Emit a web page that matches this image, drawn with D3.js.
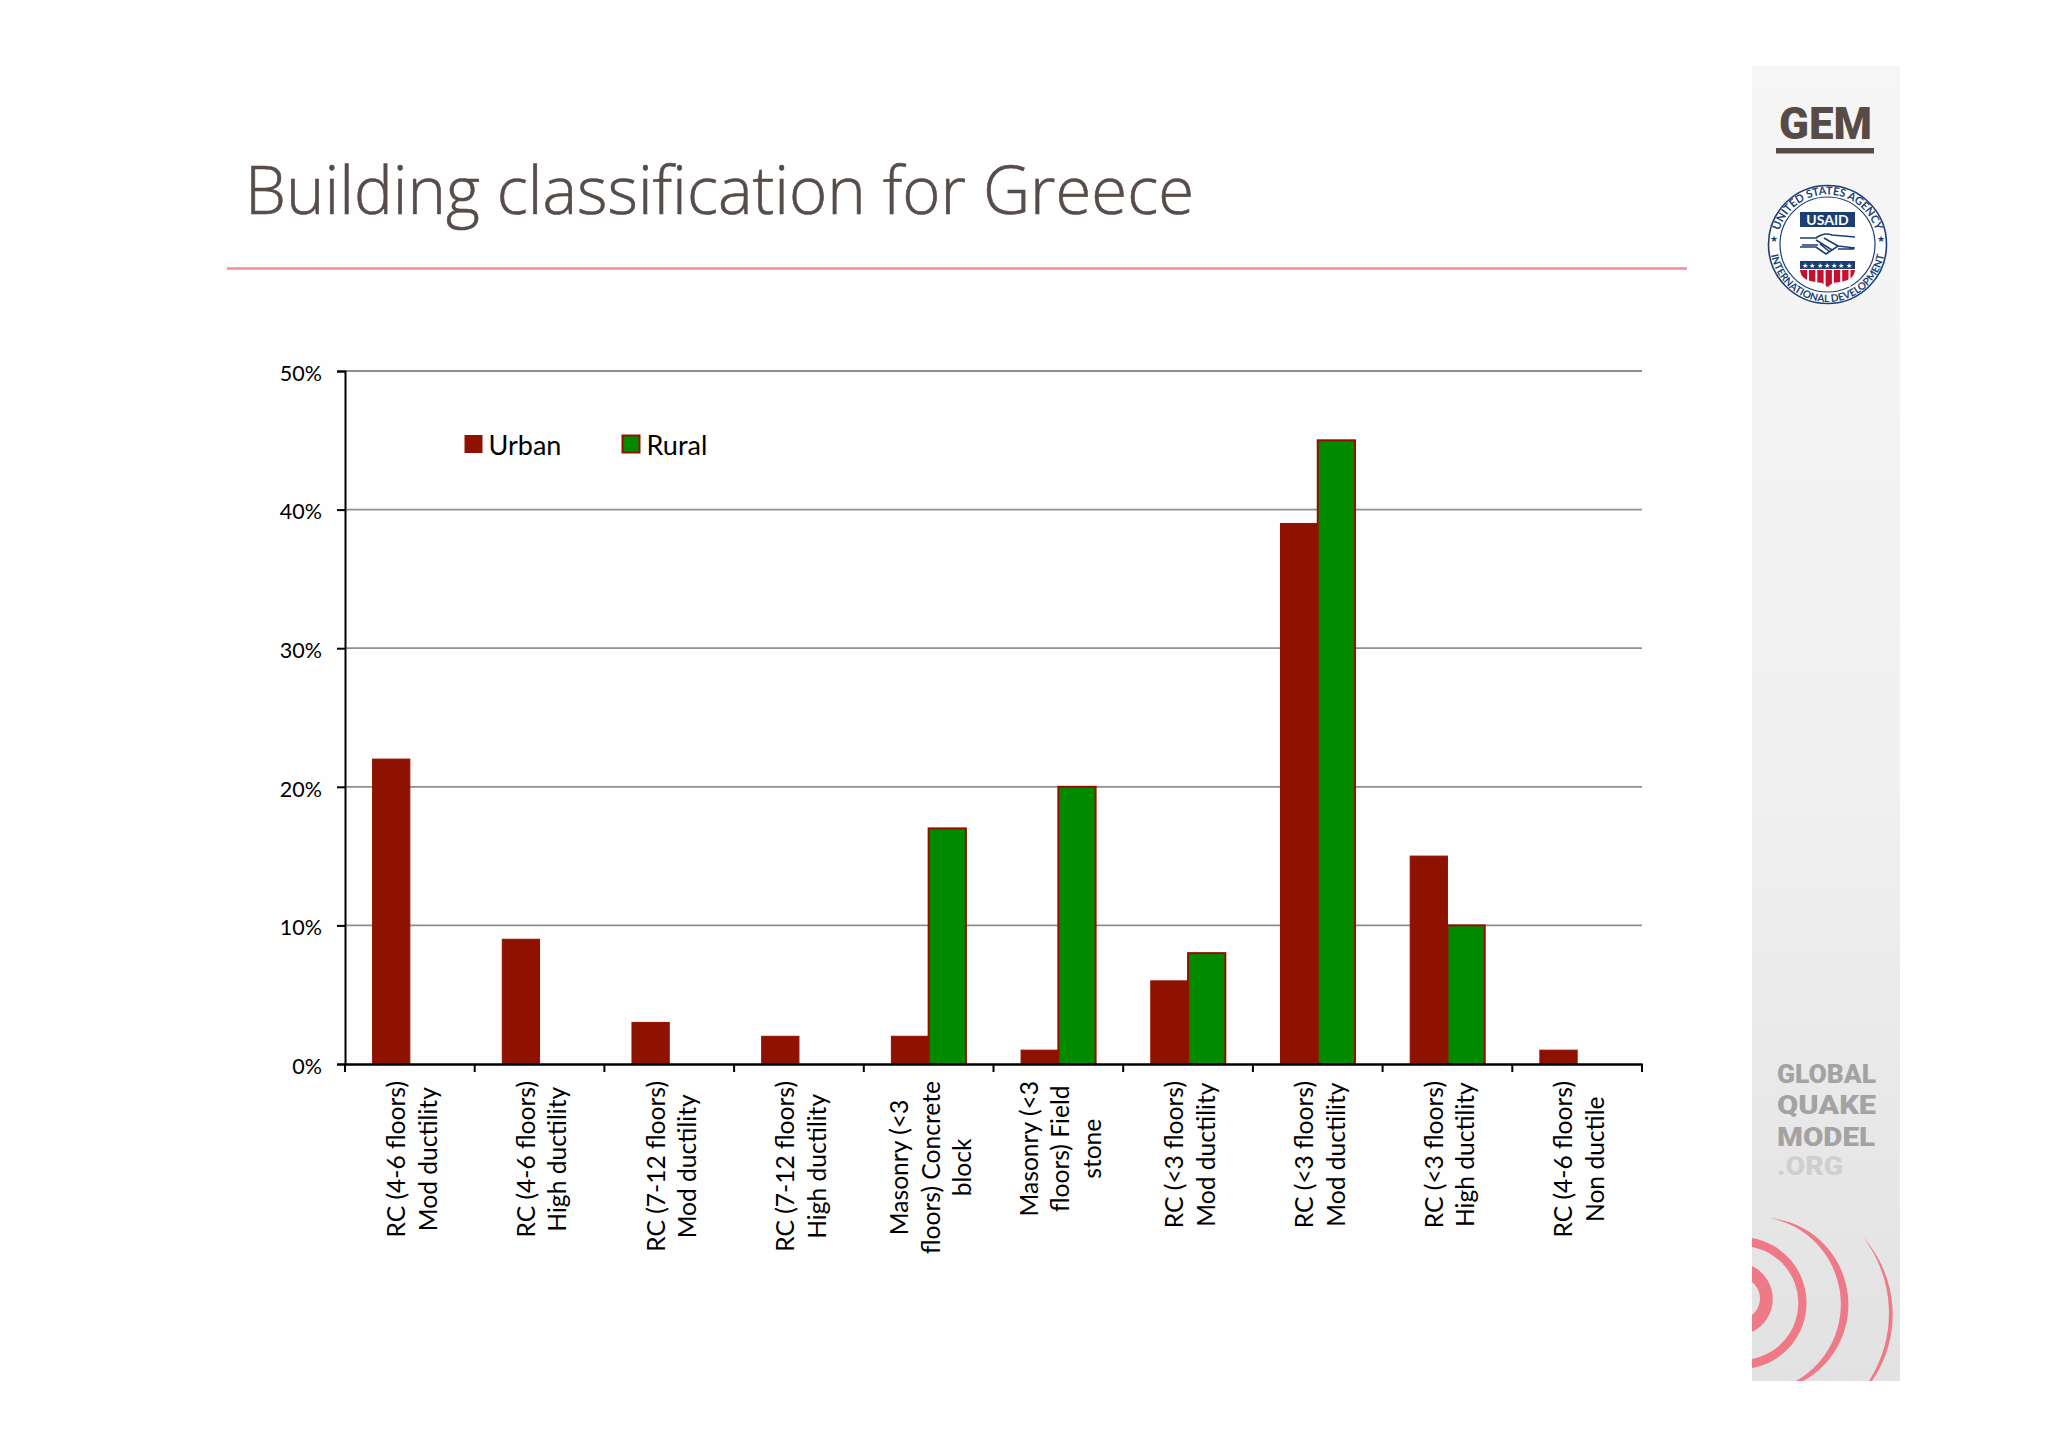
<!DOCTYPE html>
<html><head><meta charset="utf-8">
<script src="https://cdn.jsdelivr.net/npm/d3@7/dist/d3.min.js"></script>
<style>html,body{margin:0;padding:0;background:#fff}svg{display:block}text{font-family:Lato,sans-serif}</style>
</head><body><svg id="c" width="2048" height="1447"></svg>
<script>
const categories = ["RC (4-6 floors) Mod ductility","RC (4-6 floors) High ductility","RC (7-12 floors) Mod ductility","RC (7-12 floors) High ductility","Masonry (<3 floors) Concrete block","Masonry (<3 floors) Field stone","RC (<3 floors) Mod ductility","RC (<3 floors) Mod ductility ","RC (<3 floors) High ductility","RC (4-6 floors) Non ductile"];
const categoryLines = [["RC (4-6 floors)","Mod ductility"],["RC (4-6 floors)","High ductility"],["RC (7-12 floors)","Mod ductility"],["RC (7-12 floors)","High ductility"],["Masonry (<3","floors) Concrete","block"],["Masonry (<3","floors) Field","stone"],["RC (<3 floors)","Mod ductility"],["RC (<3 floors)","Mod ductility"],["RC (<3 floors)","High ductility"],["RC (4-6 floors)","Non ductile"]];
const seriesNames = ["Urban","Rural"];
const urban = [22,9,3,2,2,1,6,39,15,1];
const rural = [0,0,0,0,17,20,8,45,10,0];
const yTicks = [0,10,20,30,40,50];
const seriesColors = ["#8f1200","#008a00"];

const svg = d3.select("#c");
const defs = svg.append("defs");
const grad = defs.append("linearGradient").attr("id","pg").attr("x1",0).attr("y1",0).attr("x2",0).attr("y2",1);
grad.append("stop").attr("offset",0).attr("stop-color","#f6f6f7");
grad.append("stop").attr("offset",0.55).attr("stop-color","#f0f0f1");
grad.append("stop").attr("offset",1).attr("stop-color","#e2e2e2");

// slide
svg.append("rect").attr("x",0).attr("y",0).attr("width",2048).attr("height",1447).attr("fill","#ffffff");
svg.append("rect").attr("x",227).attr("y",66).attr("width",1525).attr("height",1381).attr("fill","#fefefe");
svg.append("text").attr("x",245).attr("y",214).attr("font-size",67).attr("font-weight",300).attr("fill","#564c49")
  .attr("stroke","#564c49").attr("stroke-width",0.6)
  .style("font-family","'Open Sans',sans-serif")
  .attr("textLength",949).attr("lengthAdjust","spacingAndGlyphs").text("Building classification for Greece");
svg.append("line").attr("x1",227).attr("x2",1687).attr("y1",268.5).attr("y2",268.5).attr("stroke","#ee8d97").attr("stroke-width",2.4);

// chart
const y = d3.scaleLinear().domain([0,50]).range([1064,371]);
const x0 = d3.scaleBand().domain(categories).range([345,1642]);
const x1 = d3.scaleBand().domain(seriesNames).range([0,x0.bandwidth()]).paddingInner(0).paddingOuter(0.74);
const left = 345, right = 1642;

svg.append("g").selectAll("line").data(yTicks.slice(1)).join("line")
  .attr("x1",left).attr("x2",right).attr("y1",d=>y(d)).attr("y2",d=>y(d))
  .attr("stroke","#8f8f8f").attr("stroke-width",1.8);

const bars = svg.append("g");
[urban,rural].forEach((vals,si)=>{
  bars.append("g").selectAll("rect").data(vals.map((v,i)=>({v,c:categories[i]})).filter(d=>d.v>0)).join("rect")
    .attr("x",d=>x0(d.c)+x1(seriesNames[si])).attr("width",x1.bandwidth())
    .attr("y",d=>y(d.v)).attr("height",d=>y(0)-y(d.v))
    .attr("fill",seriesColors[si]).attr("stroke","#8f1200").attr("stroke-width",si?2:1);
});

const yAxis = svg.append("g").attr("transform",`translate(${left},0)`)
  .call(d3.axisLeft(y).tickValues(yTicks).tickSize(8).tickPadding(15).tickFormat(d=>d+"%"));
yAxis.selectAll("text").attr("font-size",21.5).attr("fill","#000").attr("font-family","Lato, sans-serif").attr("dy","0.62em").attr("y",-4);
yAxis.selectAll("line,path").attr("stroke","#000").attr("stroke-width",2);

const xAxis = svg.append("g").attr("transform",`translate(0,${y(0)})`)
  .call(d3.axisBottom(x0).tickValues([]).tickSize(0).tickSizeOuter(0));
xAxis.select("path").attr("stroke","#000").attr("stroke-width",2.4);
const tickXs = categories.map(c=>x0(c)).concat([right]);
svg.append("g").selectAll("line").data(tickXs).join("line")
  .attr("x1",d=>d).attr("x2",d=>d).attr("y1",y(0)).attr("y2",y(0)+8).attr("stroke","#000").attr("stroke-width",2);

// category labels
const lineGap = 31.5, topEdge = 1081;
const labels = svg.append("g");
categories.forEach((c,i)=>{
  const lines = categoryLines[i];
  const cx = x0(c)+x0.bandwidth()/2+3;
  const t = labels.append("text").attr("text-anchor","middle").attr("font-size",24.6).attr("fill","#000");
  lines.forEach((l,k)=>t.append("tspan").attr("x",0).attr("y",(k-(lines.length-1)/2)*lineGap+8).text(l));
  const maxLen = d3.max(t.selectAll("tspan").nodes(),n=>n.getComputedTextLength());
  t.attr("transform",`translate(${cx},${topEdge+maxLen/2}) rotate(-90)`);
});

// legend
const legX = [465,622.5], legTextX = [488.5,646.5], legStroke = [1,2];
seriesNames.forEach((s,i)=>{
  svg.append("rect").attr("x",legX[i]).attr("y",435.5).attr("width",17).attr("height",17)
    .attr("fill",seriesColors[i]).attr("stroke","#8f1200").attr("stroke-width",legStroke[i]);
  svg.append("text").attr("x",legTextX[i]).attr("y",455).attr("font-size",27).attr("fill","#000").text(s);
});

// side panel
svg.append("rect").attr("x",1752).attr("y",66).attr("width",148).attr("height",1315).attr("fill","url(#pg)");
svg.append("text").attr("x",1779).attr("y",139).attr("font-size",44).attr("font-weight",900).attr("fill","#574b45")
  .style("font-family","Roboto,sans-serif")
  .attr("textLength",93).attr("lengthAdjust","spacingAndGlyphs").text("GEM");
svg.append("rect").attr("x",1776).attr("y",148).attr("width",98).attr("height",5.5).attr("fill","#574b45");

// USAID seal
const sx=1827.5, sy=244.5, navy="#1c3f73";
const seal = svg.append("g");
seal.append("circle").attr("cx",sx).attr("cy",sy).attr("r",59).attr("fill","#fff").attr("stroke",navy).attr("stroke-width",1.6);
seal.append("circle").attr("cx",sx).attr("cy",sy).attr("r",47.5).attr("fill","#fff").attr("stroke",navy).attr("stroke-width",1.2);
defs.append("path").attr("id","sealTop").attr("d",`M${sx-50},${sy} A50,50 0 0 1 ${sx+50},${sy}`);
defs.append("path").attr("id","sealBot").attr("d",`M${sx-57.5},${sy} A57.5,57.5 0 0 0 ${sx+57.5},${sy}`);
seal.append("text").attr("font-size",11).attr("font-weight",700).attr("fill",navy).attr("text-anchor","middle")
  .append("textPath").attr("href","#sealTop").attr("startOffset","50%").text("UNITED STATES AGENCY");
seal.append("text").attr("font-size",10.2).attr("font-weight",700).attr("fill",navy).attr("text-anchor","middle")
  .append("textPath").attr("href","#sealBot").attr("startOffset","50%").text("INTERNATIONAL DEVELOPMENT");
seal.append("text").attr("x",sx-53.5).attr("y",sy-3).attr("font-size",9).attr("text-anchor","middle").attr("fill",navy).text("★");
seal.append("text").attr("x",sx+53.5).attr("y",sy-3).attr("font-size",9).attr("text-anchor","middle").attr("fill",navy).text("★");
seal.append("rect").attr("x",1800).attr("y",212).attr("width",55).attr("height",15).attr("fill",navy);
seal.append("text").attr("x",1827.5).attr("y",224.5).attr("font-size",14).attr("font-weight",700).attr("fill","#fff").attr("text-anchor","middle").text("USAID");
seal.append("path").attr("d","M1800,238 H1816 Q1824,232 1832,235 L1855,237 M1800,247 H1816 L1826,254 L1838,246 L1855,248 M1816,240 L1832,250 M1824,238 L1838,246 M1820,244 L1830,252 M1802,245 H1818 M1838,249 H1854")
  .attr("fill","none").attr("stroke",navy).attr("stroke-width",1.6);
seal.append("rect").attr("x",1800).attr("y",261).attr("width",55).attr("height",8).attr("fill",navy);
seal.append("text").attr("x",1827.5).attr("y",268).attr("font-size",6.5).attr("letter-spacing",1.3).attr("fill","#fff").attr("text-anchor","middle").text("★★★★★★★");
seal.append("path").attr("d","M1800,270 H1855 C1854,279 1848,281 1833,283 L1827.5,287 L1822,283 C1807,281 1801,279 1800,270 Z").attr("fill","#c8102e");
seal.append("g").selectAll("rect").data(d3.range(1807,1855,8.3)).join("rect")
  .attr("x",d=>d).attr("y",270).attr("width",2).attr("height",17).attr("fill","#fff");

// panel text
const gqmLines = [["GLOBAL",1083,"#a3a3a3",99],["QUAKE",1114,"#a3a3a3",99],["MODEL",1146,"#a3a3a3",98],[".ORG",1175,"#cfcfcf",66]];
gqmLines.forEach(g=>svg.append("text").attr("x",1777).attr("y",g[1]).attr("font-size",26).attr("font-weight",900).attr("fill",g[2])
  .style("font-family","Roboto,sans-serif")
  .attr("textLength",g[3]).attr("lengthAdjust","spacingAndGlyphs").text(g[0]));

// rings
const ringPaths = [
 "M1752,1266 A36.6,36.6 0 0 1 1752,1332 L1752,1315 A21,21 0 0 0 1752,1282 Z",
 "M1752,1238 A66,66 0 0 1 1752,1368 L1752,1359 A57,57 0 0 0 1752,1247 Z",
 "M1770,1218 A87,87 0 0 1 1803,1381 L1796,1381 A88,88 0 0 0 1770,1218 Z",
 "M1863,1237 A116.6,116.6 0 0 1 1872,1381 L1869,1381 A125,125 0 0 0 1863,1237 Z"];
svg.append("g").selectAll("path").data(ringPaths).join("path").attr("d",d=>d).attr("fill","#ef7a87");
</script></body></html>
